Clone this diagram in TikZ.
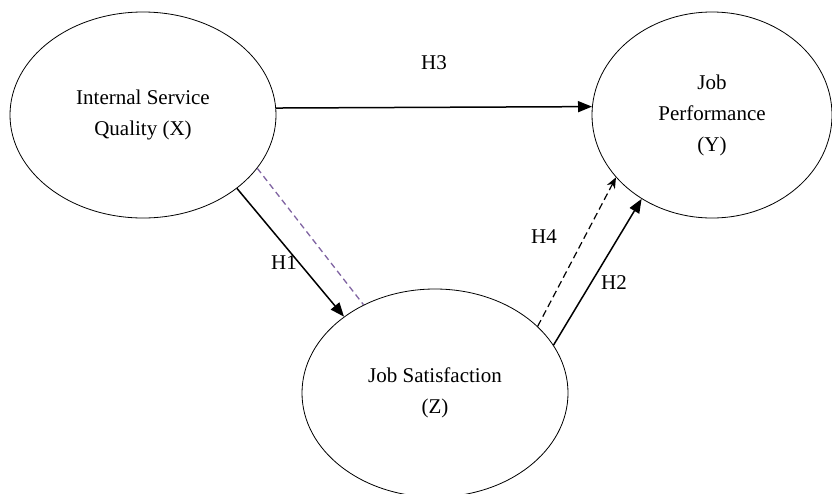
\documentclass[tikz,border=0pt]{standalone}
\usepackage{fontspec}
\setmainfont{Liberation Serif}
\usetikzlibrary{shapes.geometric,arrows.meta}
\begin{document}
\begin{tikzpicture}[x=1pt,y=-1pt,
  construct/.style={draw=black, line width=0.8pt, ellipse, inner sep=0pt, align=center,
    font=\fontsize{21}{31}\selectfont},
  lbl/.style={font=\fontsize{21}{25}\selectfont, inner sep=0pt},
  path/.style={draw=black, line width=1.5pt, -{Triangle[length=14pt,width=11pt]}},
  medpath/.style={draw=black, line width=1.2pt, dash pattern=on 7pt off 4pt, -{Stealth[length=11pt,width=9pt]}},
  indirect/.style={draw={rgb,255:red,128;green,100;blue,162}, line width=1.3pt, dash pattern=on 6pt off 4pt}
]
\useasboundingbox (0,0) rectangle (832,493);
\node[construct, minimum width=266pt, minimum height=206pt] (X) at (143,115) {Internal Service\\Quality (X)};
\node[construct, minimum width=240pt, minimum height=206pt] (Y) at (712,115) {Job\\Performance\\(Y)};
\node[construct, minimum width=266pt, minimum height=208pt] (Z) at (435,393) {Job Satisfaction\\(Z)};

\draw[path] (X.3.4) -- (Y.176.2);
\draw[path] (X.-38) -- (Z.140);
\draw[indirect] (X.-25.9) -- (Z.129.6);
\draw[medpath] (Z.33.7) -- (Y.-147.5);
\draw[path] (Z.22.8) -- (Y.-130);

\node[lbl] (h3) at (434,63) {H3};
\node[lbl] (h1) at (284,263) {H1};
\node[lbl] (h4) at (544,237) {H4};
\node[lbl] (h2) at (614,283) {H2};
\end{tikzpicture}
\end{document}
